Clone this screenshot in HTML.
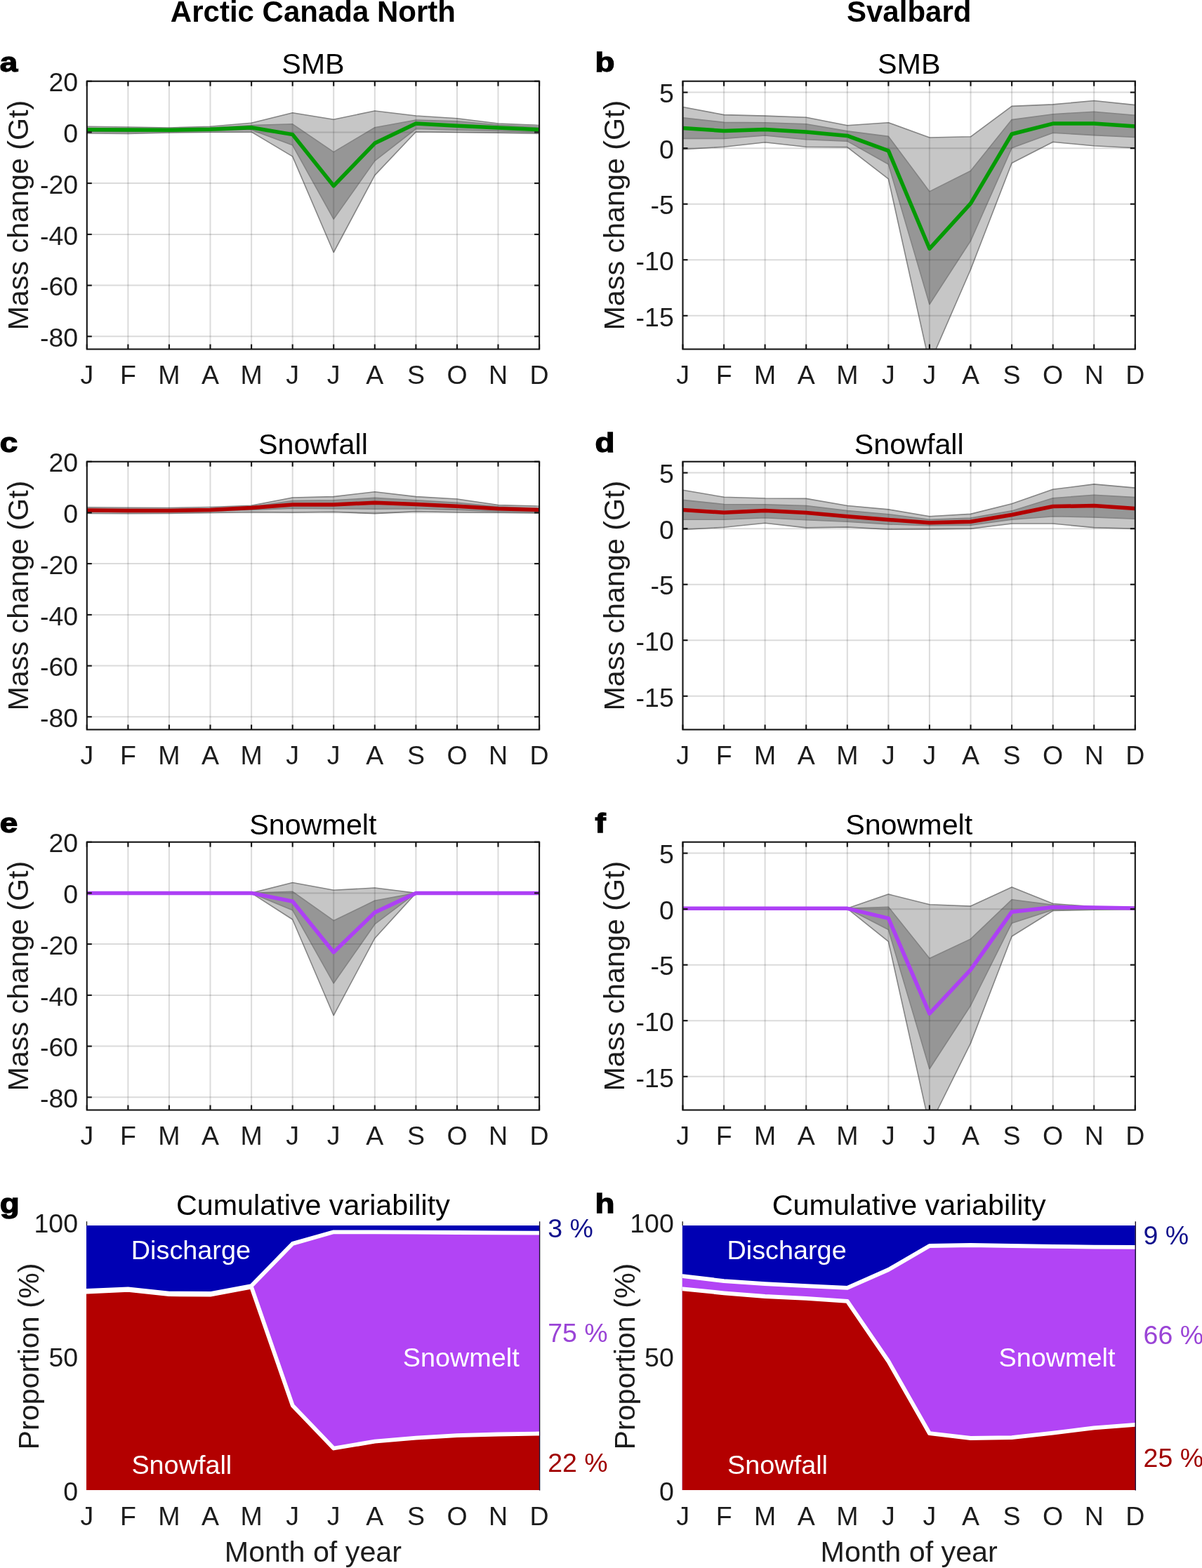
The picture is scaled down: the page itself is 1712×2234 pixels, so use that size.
<!DOCTYPE html>
<html><head><meta charset="utf-8"><title>Figure</title>
<style>html,body{margin:0;padding:0;background:#fff;}body{width:1712px;height:2234px;overflow:hidden;}svg{display:block;}</style>
</head><body>
<svg width="1712" height="2234" viewBox="0 0 1712 2234" font-family="'Liberation Sans', Arial, Helvetica, sans-serif"><rect width="1712" height="2234" fill="#fff"/><clipPath id="clipa"><rect x="123.8" y="115.7" width="644.3" height="381.8"/></clipPath><g clip-path="url(#clipa)"><polygon points="123.8,180.2 182.4,181.0 240.9,182.0 299.5,180.2 358.1,175.2 416.7,160.7 475.2,170.2 533.8,158.0 592.4,165.0 651.0,168.8 709.5,176.0 768.1,178.6 768.1,190.4 709.5,189.1 651.0,188.5 592.4,187.8 533.8,249.6 475.2,359.5 416.7,222.9 358.1,187.9 299.5,188.2 240.9,189.0 182.4,190.4 123.8,190.0" fill="#c6c6c6" stroke="#848484" stroke-width="1.6" stroke-linejoin="round"/><polygon points="123.8,182.5 182.4,183.0 240.9,183.5 299.5,182.0 358.1,178.5 416.7,176.8 475.2,216.6 533.8,181.8 592.4,171.0 651.0,172.7 709.5,178.0 768.1,181.0 768.1,188.5 709.5,186.5 651.0,185.2 592.4,183.5 533.8,229.1 475.2,312.1 416.7,206.8 358.1,185.0 299.5,186.5 240.9,187.2 182.4,187.8 123.8,187.5" fill="#969696" stroke="#848484" stroke-width="1.6" stroke-linejoin="round"/><line x1="182.4" y1="115.7" x2="182.4" y2="497.5" stroke="#262626" stroke-opacity="0.165" stroke-width="2"/><line x1="240.9" y1="115.7" x2="240.9" y2="497.5" stroke="#262626" stroke-opacity="0.165" stroke-width="2"/><line x1="299.5" y1="115.7" x2="299.5" y2="497.5" stroke="#262626" stroke-opacity="0.165" stroke-width="2"/><line x1="358.1" y1="115.7" x2="358.1" y2="497.5" stroke="#262626" stroke-opacity="0.165" stroke-width="2"/><line x1="416.7" y1="115.7" x2="416.7" y2="497.5" stroke="#262626" stroke-opacity="0.165" stroke-width="2"/><line x1="475.2" y1="115.7" x2="475.2" y2="497.5" stroke="#262626" stroke-opacity="0.165" stroke-width="2"/><line x1="533.8" y1="115.7" x2="533.8" y2="497.5" stroke="#262626" stroke-opacity="0.165" stroke-width="2"/><line x1="592.4" y1="115.7" x2="592.4" y2="497.5" stroke="#262626" stroke-opacity="0.165" stroke-width="2"/><line x1="651.0" y1="115.7" x2="651.0" y2="497.5" stroke="#262626" stroke-opacity="0.165" stroke-width="2"/><line x1="709.5" y1="115.7" x2="709.5" y2="497.5" stroke="#262626" stroke-opacity="0.165" stroke-width="2"/><line x1="123.8" y1="115.7" x2="768.1" y2="115.7" stroke="#262626" stroke-opacity="0.165" stroke-width="2"/><line x1="123.8" y1="188.4" x2="768.1" y2="188.4" stroke="#262626" stroke-opacity="0.165" stroke-width="2"/><line x1="123.8" y1="261.1" x2="768.1" y2="261.1" stroke="#262626" stroke-opacity="0.165" stroke-width="2"/><line x1="123.8" y1="333.9" x2="768.1" y2="333.9" stroke="#262626" stroke-opacity="0.165" stroke-width="2"/><line x1="123.8" y1="406.6" x2="768.1" y2="406.6" stroke="#262626" stroke-opacity="0.165" stroke-width="2"/><line x1="123.8" y1="479.3" x2="768.1" y2="479.3" stroke="#262626" stroke-opacity="0.165" stroke-width="2"/><polyline points="123.8,184.8 182.4,185.1 240.9,185.3 299.5,184.2 358.1,181.8 416.7,191.6 475.2,264.8 533.8,204.1 592.4,176.0 651.0,179.3 709.5,181.9 768.1,184.8" fill="none" stroke="#049a04" stroke-width="5.5" stroke-linejoin="round" stroke-linecap="butt"/></g><rect x="123.8" y="115.7" width="644.3" height="381.8" fill="none" stroke="#141414" stroke-width="2.1"/><line x1="123.8" y1="497.5" x2="123.8" y2="490.5" stroke="#141414" stroke-width="2.1"/><line x1="123.8" y1="115.7" x2="123.8" y2="122.7" stroke="#141414" stroke-width="2.1"/><line x1="182.4" y1="497.5" x2="182.4" y2="490.5" stroke="#141414" stroke-width="2.1"/><line x1="182.4" y1="115.7" x2="182.4" y2="122.7" stroke="#141414" stroke-width="2.1"/><line x1="240.9" y1="497.5" x2="240.9" y2="490.5" stroke="#141414" stroke-width="2.1"/><line x1="240.9" y1="115.7" x2="240.9" y2="122.7" stroke="#141414" stroke-width="2.1"/><line x1="299.5" y1="497.5" x2="299.5" y2="490.5" stroke="#141414" stroke-width="2.1"/><line x1="299.5" y1="115.7" x2="299.5" y2="122.7" stroke="#141414" stroke-width="2.1"/><line x1="358.1" y1="497.5" x2="358.1" y2="490.5" stroke="#141414" stroke-width="2.1"/><line x1="358.1" y1="115.7" x2="358.1" y2="122.7" stroke="#141414" stroke-width="2.1"/><line x1="416.7" y1="497.5" x2="416.7" y2="490.5" stroke="#141414" stroke-width="2.1"/><line x1="416.7" y1="115.7" x2="416.7" y2="122.7" stroke="#141414" stroke-width="2.1"/><line x1="475.2" y1="497.5" x2="475.2" y2="490.5" stroke="#141414" stroke-width="2.1"/><line x1="475.2" y1="115.7" x2="475.2" y2="122.7" stroke="#141414" stroke-width="2.1"/><line x1="533.8" y1="497.5" x2="533.8" y2="490.5" stroke="#141414" stroke-width="2.1"/><line x1="533.8" y1="115.7" x2="533.8" y2="122.7" stroke="#141414" stroke-width="2.1"/><line x1="592.4" y1="497.5" x2="592.4" y2="490.5" stroke="#141414" stroke-width="2.1"/><line x1="592.4" y1="115.7" x2="592.4" y2="122.7" stroke="#141414" stroke-width="2.1"/><line x1="651.0" y1="497.5" x2="651.0" y2="490.5" stroke="#141414" stroke-width="2.1"/><line x1="651.0" y1="115.7" x2="651.0" y2="122.7" stroke="#141414" stroke-width="2.1"/><line x1="709.5" y1="497.5" x2="709.5" y2="490.5" stroke="#141414" stroke-width="2.1"/><line x1="709.5" y1="115.7" x2="709.5" y2="122.7" stroke="#141414" stroke-width="2.1"/><line x1="768.1" y1="497.5" x2="768.1" y2="490.5" stroke="#141414" stroke-width="2.1"/><line x1="768.1" y1="115.7" x2="768.1" y2="122.7" stroke="#141414" stroke-width="2.1"/><line x1="123.8" y1="115.7" x2="130.8" y2="115.7" stroke="#141414" stroke-width="2.1"/><line x1="768.1" y1="115.7" x2="761.1" y2="115.7" stroke="#141414" stroke-width="2.1"/><line x1="123.8" y1="188.4" x2="130.8" y2="188.4" stroke="#141414" stroke-width="2.1"/><line x1="768.1" y1="188.4" x2="761.1" y2="188.4" stroke="#141414" stroke-width="2.1"/><line x1="123.8" y1="261.1" x2="130.8" y2="261.1" stroke="#141414" stroke-width="2.1"/><line x1="768.1" y1="261.1" x2="761.1" y2="261.1" stroke="#141414" stroke-width="2.1"/><line x1="123.8" y1="333.9" x2="130.8" y2="333.9" stroke="#141414" stroke-width="2.1"/><line x1="768.1" y1="333.9" x2="761.1" y2="333.9" stroke="#141414" stroke-width="2.1"/><line x1="123.8" y1="406.6" x2="130.8" y2="406.6" stroke="#141414" stroke-width="2.1"/><line x1="768.1" y1="406.6" x2="761.1" y2="406.6" stroke="#141414" stroke-width="2.1"/><line x1="123.8" y1="479.3" x2="130.8" y2="479.3" stroke="#141414" stroke-width="2.1"/><line x1="768.1" y1="479.3" x2="761.1" y2="479.3" stroke="#141414" stroke-width="2.1"/><text x="123.8" y="546.7" font-size="37.5" fill="#1c1c1c" text-anchor="middle">J</text><text x="182.4" y="546.7" font-size="37.5" fill="#1c1c1c" text-anchor="middle">F</text><text x="240.9" y="546.7" font-size="37.5" fill="#1c1c1c" text-anchor="middle">M</text><text x="299.5" y="546.7" font-size="37.5" fill="#1c1c1c" text-anchor="middle">A</text><text x="358.1" y="546.7" font-size="37.5" fill="#1c1c1c" text-anchor="middle">M</text><text x="416.7" y="546.7" font-size="37.5" fill="#1c1c1c" text-anchor="middle">J</text><text x="475.2" y="546.7" font-size="37.5" fill="#1c1c1c" text-anchor="middle">J</text><text x="533.8" y="546.7" font-size="37.5" fill="#1c1c1c" text-anchor="middle">A</text><text x="592.4" y="546.7" font-size="37.5" fill="#1c1c1c" text-anchor="middle">S</text><text x="651.0" y="546.7" font-size="37.5" fill="#1c1c1c" text-anchor="middle">O</text><text x="709.5" y="546.7" font-size="37.5" fill="#1c1c1c" text-anchor="middle">N</text><text x="768.1" y="546.7" font-size="37.5" fill="#1c1c1c" text-anchor="middle">D</text><text x="111.1" y="130.4" font-size="37.5" fill="#1c1c1c" text-anchor="end">20</text><text x="111.1" y="203.1" font-size="37.5" fill="#1c1c1c" text-anchor="end">0</text><text x="111.1" y="275.8" font-size="37.5" fill="#1c1c1c" text-anchor="end">-20</text><text x="111.1" y="348.6" font-size="37.5" fill="#1c1c1c" text-anchor="end">-40</text><text x="111.1" y="421.3" font-size="37.5" fill="#1c1c1c" text-anchor="end">-60</text><text x="111.1" y="494.0" font-size="37.5" fill="#1c1c1c" text-anchor="end">-80</text><clipPath id="clipb"><rect x="972.5" y="115.7" width="644.3" height="381.8"/></clipPath><g clip-path="url(#clipb)"><polygon points="972.5,152.5 1031.1,163.6 1089.6,165.1 1148.2,167.3 1206.8,178.8 1265.4,174.8 1323.9,196.0 1382.5,194.8 1441.1,151.4 1499.7,148.9 1558.2,143.5 1616.8,149.6 1616.8,210.7 1558.2,207.7 1499.7,202.3 1441.1,232.2 1382.5,383.8 1323.9,518.5 1265.4,254.8 1206.8,209.6 1148.2,209.2 1089.6,202.7 1031.1,209.2 972.5,212.8" fill="#c6c6c6" stroke="#848484" stroke-width="1.6" stroke-linejoin="round"/><polygon points="972.5,167.7 1031.1,174.4 1089.6,174.8 1148.2,176.8 1206.8,186.9 1265.4,194.4 1323.9,272.9 1382.5,243.5 1441.1,170.6 1499.7,162.7 1558.2,159.3 1616.8,164.3 1616.8,195.5 1558.2,192.6 1499.7,189.2 1441.1,210.7 1382.5,343.0 1323.9,433.5 1265.4,234.0 1206.8,201.1 1148.2,198.7 1089.6,193.0 1031.1,197.4 972.5,197.4" fill="#969696" stroke="#848484" stroke-width="1.6" stroke-linejoin="round"/><line x1="1031.1" y1="115.7" x2="1031.1" y2="497.5" stroke="#262626" stroke-opacity="0.165" stroke-width="2"/><line x1="1089.6" y1="115.7" x2="1089.6" y2="497.5" stroke="#262626" stroke-opacity="0.165" stroke-width="2"/><line x1="1148.2" y1="115.7" x2="1148.2" y2="497.5" stroke="#262626" stroke-opacity="0.165" stroke-width="2"/><line x1="1206.8" y1="115.7" x2="1206.8" y2="497.5" stroke="#262626" stroke-opacity="0.165" stroke-width="2"/><line x1="1265.4" y1="115.7" x2="1265.4" y2="497.5" stroke="#262626" stroke-opacity="0.165" stroke-width="2"/><line x1="1323.9" y1="115.7" x2="1323.9" y2="497.5" stroke="#262626" stroke-opacity="0.165" stroke-width="2"/><line x1="1382.5" y1="115.7" x2="1382.5" y2="497.5" stroke="#262626" stroke-opacity="0.165" stroke-width="2"/><line x1="1441.1" y1="115.7" x2="1441.1" y2="497.5" stroke="#262626" stroke-opacity="0.165" stroke-width="2"/><line x1="1499.7" y1="115.7" x2="1499.7" y2="497.5" stroke="#262626" stroke-opacity="0.165" stroke-width="2"/><line x1="1558.2" y1="115.7" x2="1558.2" y2="497.5" stroke="#262626" stroke-opacity="0.165" stroke-width="2"/><line x1="972.5" y1="131.6" x2="1616.8" y2="131.6" stroke="#262626" stroke-opacity="0.165" stroke-width="2"/><line x1="972.5" y1="211.2" x2="1616.8" y2="211.2" stroke="#262626" stroke-opacity="0.165" stroke-width="2"/><line x1="972.5" y1="290.7" x2="1616.8" y2="290.7" stroke="#262626" stroke-opacity="0.165" stroke-width="2"/><line x1="972.5" y1="370.2" x2="1616.8" y2="370.2" stroke="#262626" stroke-opacity="0.165" stroke-width="2"/><line x1="972.5" y1="449.8" x2="1616.8" y2="449.8" stroke="#262626" stroke-opacity="0.165" stroke-width="2"/><polyline points="972.5,182.5 1031.1,186.5 1089.6,184.5 1148.2,187.9 1206.8,193.4 1265.4,214.9 1323.9,354.3 1382.5,289.9 1441.1,191.0 1499.7,176.1 1558.2,176.1 1616.8,180.1" fill="none" stroke="#049a04" stroke-width="5.5" stroke-linejoin="round" stroke-linecap="butt"/></g><rect x="972.5" y="115.7" width="644.3" height="381.8" fill="none" stroke="#141414" stroke-width="2.1"/><line x1="972.5" y1="497.5" x2="972.5" y2="490.5" stroke="#141414" stroke-width="2.1"/><line x1="972.5" y1="115.7" x2="972.5" y2="122.7" stroke="#141414" stroke-width="2.1"/><line x1="1031.1" y1="497.5" x2="1031.1" y2="490.5" stroke="#141414" stroke-width="2.1"/><line x1="1031.1" y1="115.7" x2="1031.1" y2="122.7" stroke="#141414" stroke-width="2.1"/><line x1="1089.6" y1="497.5" x2="1089.6" y2="490.5" stroke="#141414" stroke-width="2.1"/><line x1="1089.6" y1="115.7" x2="1089.6" y2="122.7" stroke="#141414" stroke-width="2.1"/><line x1="1148.2" y1="497.5" x2="1148.2" y2="490.5" stroke="#141414" stroke-width="2.1"/><line x1="1148.2" y1="115.7" x2="1148.2" y2="122.7" stroke="#141414" stroke-width="2.1"/><line x1="1206.8" y1="497.5" x2="1206.8" y2="490.5" stroke="#141414" stroke-width="2.1"/><line x1="1206.8" y1="115.7" x2="1206.8" y2="122.7" stroke="#141414" stroke-width="2.1"/><line x1="1265.4" y1="497.5" x2="1265.4" y2="490.5" stroke="#141414" stroke-width="2.1"/><line x1="1265.4" y1="115.7" x2="1265.4" y2="122.7" stroke="#141414" stroke-width="2.1"/><line x1="1323.9" y1="497.5" x2="1323.9" y2="490.5" stroke="#141414" stroke-width="2.1"/><line x1="1323.9" y1="115.7" x2="1323.9" y2="122.7" stroke="#141414" stroke-width="2.1"/><line x1="1382.5" y1="497.5" x2="1382.5" y2="490.5" stroke="#141414" stroke-width="2.1"/><line x1="1382.5" y1="115.7" x2="1382.5" y2="122.7" stroke="#141414" stroke-width="2.1"/><line x1="1441.1" y1="497.5" x2="1441.1" y2="490.5" stroke="#141414" stroke-width="2.1"/><line x1="1441.1" y1="115.7" x2="1441.1" y2="122.7" stroke="#141414" stroke-width="2.1"/><line x1="1499.7" y1="497.5" x2="1499.7" y2="490.5" stroke="#141414" stroke-width="2.1"/><line x1="1499.7" y1="115.7" x2="1499.7" y2="122.7" stroke="#141414" stroke-width="2.1"/><line x1="1558.2" y1="497.5" x2="1558.2" y2="490.5" stroke="#141414" stroke-width="2.1"/><line x1="1558.2" y1="115.7" x2="1558.2" y2="122.7" stroke="#141414" stroke-width="2.1"/><line x1="1616.8" y1="497.5" x2="1616.8" y2="490.5" stroke="#141414" stroke-width="2.1"/><line x1="1616.8" y1="115.7" x2="1616.8" y2="122.7" stroke="#141414" stroke-width="2.1"/><line x1="972.5" y1="131.6" x2="979.5" y2="131.6" stroke="#141414" stroke-width="2.1"/><line x1="1616.8" y1="131.6" x2="1609.8" y2="131.6" stroke="#141414" stroke-width="2.1"/><line x1="972.5" y1="211.2" x2="979.5" y2="211.2" stroke="#141414" stroke-width="2.1"/><line x1="1616.8" y1="211.2" x2="1609.8" y2="211.2" stroke="#141414" stroke-width="2.1"/><line x1="972.5" y1="290.7" x2="979.5" y2="290.7" stroke="#141414" stroke-width="2.1"/><line x1="1616.8" y1="290.7" x2="1609.8" y2="290.7" stroke="#141414" stroke-width="2.1"/><line x1="972.5" y1="370.2" x2="979.5" y2="370.2" stroke="#141414" stroke-width="2.1"/><line x1="1616.8" y1="370.2" x2="1609.8" y2="370.2" stroke="#141414" stroke-width="2.1"/><line x1="972.5" y1="449.8" x2="979.5" y2="449.8" stroke="#141414" stroke-width="2.1"/><line x1="1616.8" y1="449.8" x2="1609.8" y2="449.8" stroke="#141414" stroke-width="2.1"/><text x="972.5" y="546.7" font-size="37.5" fill="#1c1c1c" text-anchor="middle">J</text><text x="1031.1" y="546.7" font-size="37.5" fill="#1c1c1c" text-anchor="middle">F</text><text x="1089.6" y="546.7" font-size="37.5" fill="#1c1c1c" text-anchor="middle">M</text><text x="1148.2" y="546.7" font-size="37.5" fill="#1c1c1c" text-anchor="middle">A</text><text x="1206.8" y="546.7" font-size="37.5" fill="#1c1c1c" text-anchor="middle">M</text><text x="1265.4" y="546.7" font-size="37.5" fill="#1c1c1c" text-anchor="middle">J</text><text x="1323.9" y="546.7" font-size="37.5" fill="#1c1c1c" text-anchor="middle">J</text><text x="1382.5" y="546.7" font-size="37.5" fill="#1c1c1c" text-anchor="middle">A</text><text x="1441.1" y="546.7" font-size="37.5" fill="#1c1c1c" text-anchor="middle">S</text><text x="1499.7" y="546.7" font-size="37.5" fill="#1c1c1c" text-anchor="middle">O</text><text x="1558.2" y="546.7" font-size="37.5" fill="#1c1c1c" text-anchor="middle">N</text><text x="1616.8" y="546.7" font-size="37.5" fill="#1c1c1c" text-anchor="middle">D</text><text x="959.8" y="146.3" font-size="37.5" fill="#1c1c1c" text-anchor="end">5</text><text x="959.8" y="225.8" font-size="37.5" fill="#1c1c1c" text-anchor="end">0</text><text x="959.8" y="305.4" font-size="37.5" fill="#1c1c1c" text-anchor="end">-5</text><text x="959.8" y="384.9" font-size="37.5" fill="#1c1c1c" text-anchor="end">-10</text><text x="959.8" y="464.5" font-size="37.5" fill="#1c1c1c" text-anchor="end">-15</text><clipPath id="clipc"><rect x="123.8" y="657.7" width="644.3" height="381.8"/></clipPath><g clip-path="url(#clipc)"><polygon points="123.8,722.8 182.4,723.2 240.9,723.5 299.5,722.5 358.1,720.4 416.7,709.0 475.2,707.6 533.8,700.8 592.4,707.6 651.0,711.0 709.5,719.6 768.1,721.2 768.1,730.9 709.5,730.2 651.0,729.8 592.4,728.6 533.8,731.6 475.2,729.3 416.7,730.0 358.1,729.5 299.5,730.5 240.9,731.5 182.4,731.8 123.8,731.5" fill="#c6c6c6" stroke="#848484" stroke-width="1.6" stroke-linejoin="round"/><polygon points="123.8,725.0 182.4,725.4 240.9,725.5 299.5,724.5 358.1,722.0 416.7,713.5 475.2,712.8 533.8,709.4 592.4,712.8 651.0,716.2 709.5,721.9 768.1,724.1 768.1,729.3 709.5,728.6 651.0,726.4 592.4,724.8 533.8,725.2 475.2,724.8 416.7,724.1 358.1,726.5 299.5,728.4 240.9,729.2 182.4,729.4 123.8,729.0" fill="#969696" stroke="#848484" stroke-width="1.6" stroke-linejoin="round"/><line x1="182.4" y1="657.7" x2="182.4" y2="1039.5" stroke="#262626" stroke-opacity="0.165" stroke-width="2"/><line x1="240.9" y1="657.7" x2="240.9" y2="1039.5" stroke="#262626" stroke-opacity="0.165" stroke-width="2"/><line x1="299.5" y1="657.7" x2="299.5" y2="1039.5" stroke="#262626" stroke-opacity="0.165" stroke-width="2"/><line x1="358.1" y1="657.7" x2="358.1" y2="1039.5" stroke="#262626" stroke-opacity="0.165" stroke-width="2"/><line x1="416.7" y1="657.7" x2="416.7" y2="1039.5" stroke="#262626" stroke-opacity="0.165" stroke-width="2"/><line x1="475.2" y1="657.7" x2="475.2" y2="1039.5" stroke="#262626" stroke-opacity="0.165" stroke-width="2"/><line x1="533.8" y1="657.7" x2="533.8" y2="1039.5" stroke="#262626" stroke-opacity="0.165" stroke-width="2"/><line x1="592.4" y1="657.7" x2="592.4" y2="1039.5" stroke="#262626" stroke-opacity="0.165" stroke-width="2"/><line x1="651.0" y1="657.7" x2="651.0" y2="1039.5" stroke="#262626" stroke-opacity="0.165" stroke-width="2"/><line x1="709.5" y1="657.7" x2="709.5" y2="1039.5" stroke="#262626" stroke-opacity="0.165" stroke-width="2"/><line x1="123.8" y1="657.7" x2="768.1" y2="657.7" stroke="#262626" stroke-opacity="0.165" stroke-width="2"/><line x1="123.8" y1="730.4" x2="768.1" y2="730.4" stroke="#262626" stroke-opacity="0.165" stroke-width="2"/><line x1="123.8" y1="803.1" x2="768.1" y2="803.1" stroke="#262626" stroke-opacity="0.165" stroke-width="2"/><line x1="123.8" y1="875.9" x2="768.1" y2="875.9" stroke="#262626" stroke-opacity="0.165" stroke-width="2"/><line x1="123.8" y1="948.6" x2="768.1" y2="948.6" stroke="#262626" stroke-opacity="0.165" stroke-width="2"/><line x1="123.8" y1="1021.3" x2="768.1" y2="1021.3" stroke="#262626" stroke-opacity="0.165" stroke-width="2"/><polyline points="123.8,727.0 182.4,727.4 240.9,727.4 299.5,726.4 358.1,723.4 416.7,719.0 475.2,718.9 533.8,716.2 592.4,718.5 651.0,721.2 709.5,724.8 768.1,726.4" fill="none" stroke="#b30000" stroke-width="5.5" stroke-linejoin="round" stroke-linecap="butt"/></g><rect x="123.8" y="657.7" width="644.3" height="381.8" fill="none" stroke="#141414" stroke-width="2.1"/><line x1="123.8" y1="1039.5" x2="123.8" y2="1032.5" stroke="#141414" stroke-width="2.1"/><line x1="123.8" y1="657.7" x2="123.8" y2="664.7" stroke="#141414" stroke-width="2.1"/><line x1="182.4" y1="1039.5" x2="182.4" y2="1032.5" stroke="#141414" stroke-width="2.1"/><line x1="182.4" y1="657.7" x2="182.4" y2="664.7" stroke="#141414" stroke-width="2.1"/><line x1="240.9" y1="1039.5" x2="240.9" y2="1032.5" stroke="#141414" stroke-width="2.1"/><line x1="240.9" y1="657.7" x2="240.9" y2="664.7" stroke="#141414" stroke-width="2.1"/><line x1="299.5" y1="1039.5" x2="299.5" y2="1032.5" stroke="#141414" stroke-width="2.1"/><line x1="299.5" y1="657.7" x2="299.5" y2="664.7" stroke="#141414" stroke-width="2.1"/><line x1="358.1" y1="1039.5" x2="358.1" y2="1032.5" stroke="#141414" stroke-width="2.1"/><line x1="358.1" y1="657.7" x2="358.1" y2="664.7" stroke="#141414" stroke-width="2.1"/><line x1="416.7" y1="1039.5" x2="416.7" y2="1032.5" stroke="#141414" stroke-width="2.1"/><line x1="416.7" y1="657.7" x2="416.7" y2="664.7" stroke="#141414" stroke-width="2.1"/><line x1="475.2" y1="1039.5" x2="475.2" y2="1032.5" stroke="#141414" stroke-width="2.1"/><line x1="475.2" y1="657.7" x2="475.2" y2="664.7" stroke="#141414" stroke-width="2.1"/><line x1="533.8" y1="1039.5" x2="533.8" y2="1032.5" stroke="#141414" stroke-width="2.1"/><line x1="533.8" y1="657.7" x2="533.8" y2="664.7" stroke="#141414" stroke-width="2.1"/><line x1="592.4" y1="1039.5" x2="592.4" y2="1032.5" stroke="#141414" stroke-width="2.1"/><line x1="592.4" y1="657.7" x2="592.4" y2="664.7" stroke="#141414" stroke-width="2.1"/><line x1="651.0" y1="1039.5" x2="651.0" y2="1032.5" stroke="#141414" stroke-width="2.1"/><line x1="651.0" y1="657.7" x2="651.0" y2="664.7" stroke="#141414" stroke-width="2.1"/><line x1="709.5" y1="1039.5" x2="709.5" y2="1032.5" stroke="#141414" stroke-width="2.1"/><line x1="709.5" y1="657.7" x2="709.5" y2="664.7" stroke="#141414" stroke-width="2.1"/><line x1="768.1" y1="1039.5" x2="768.1" y2="1032.5" stroke="#141414" stroke-width="2.1"/><line x1="768.1" y1="657.7" x2="768.1" y2="664.7" stroke="#141414" stroke-width="2.1"/><line x1="123.8" y1="657.7" x2="130.8" y2="657.7" stroke="#141414" stroke-width="2.1"/><line x1="768.1" y1="657.7" x2="761.1" y2="657.7" stroke="#141414" stroke-width="2.1"/><line x1="123.8" y1="730.4" x2="130.8" y2="730.4" stroke="#141414" stroke-width="2.1"/><line x1="768.1" y1="730.4" x2="761.1" y2="730.4" stroke="#141414" stroke-width="2.1"/><line x1="123.8" y1="803.1" x2="130.8" y2="803.1" stroke="#141414" stroke-width="2.1"/><line x1="768.1" y1="803.1" x2="761.1" y2="803.1" stroke="#141414" stroke-width="2.1"/><line x1="123.8" y1="875.9" x2="130.8" y2="875.9" stroke="#141414" stroke-width="2.1"/><line x1="768.1" y1="875.9" x2="761.1" y2="875.9" stroke="#141414" stroke-width="2.1"/><line x1="123.8" y1="948.6" x2="130.8" y2="948.6" stroke="#141414" stroke-width="2.1"/><line x1="768.1" y1="948.6" x2="761.1" y2="948.6" stroke="#141414" stroke-width="2.1"/><line x1="123.8" y1="1021.3" x2="130.8" y2="1021.3" stroke="#141414" stroke-width="2.1"/><line x1="768.1" y1="1021.3" x2="761.1" y2="1021.3" stroke="#141414" stroke-width="2.1"/><text x="123.8" y="1088.7" font-size="37.5" fill="#1c1c1c" text-anchor="middle">J</text><text x="182.4" y="1088.7" font-size="37.5" fill="#1c1c1c" text-anchor="middle">F</text><text x="240.9" y="1088.7" font-size="37.5" fill="#1c1c1c" text-anchor="middle">M</text><text x="299.5" y="1088.7" font-size="37.5" fill="#1c1c1c" text-anchor="middle">A</text><text x="358.1" y="1088.7" font-size="37.5" fill="#1c1c1c" text-anchor="middle">M</text><text x="416.7" y="1088.7" font-size="37.5" fill="#1c1c1c" text-anchor="middle">J</text><text x="475.2" y="1088.7" font-size="37.5" fill="#1c1c1c" text-anchor="middle">J</text><text x="533.8" y="1088.7" font-size="37.5" fill="#1c1c1c" text-anchor="middle">A</text><text x="592.4" y="1088.7" font-size="37.5" fill="#1c1c1c" text-anchor="middle">S</text><text x="651.0" y="1088.7" font-size="37.5" fill="#1c1c1c" text-anchor="middle">O</text><text x="709.5" y="1088.7" font-size="37.5" fill="#1c1c1c" text-anchor="middle">N</text><text x="768.1" y="1088.7" font-size="37.5" fill="#1c1c1c" text-anchor="middle">D</text><text x="111.1" y="672.4" font-size="37.5" fill="#1c1c1c" text-anchor="end">20</text><text x="111.1" y="745.1" font-size="37.5" fill="#1c1c1c" text-anchor="end">0</text><text x="111.1" y="817.8" font-size="37.5" fill="#1c1c1c" text-anchor="end">-20</text><text x="111.1" y="890.6" font-size="37.5" fill="#1c1c1c" text-anchor="end">-40</text><text x="111.1" y="963.3" font-size="37.5" fill="#1c1c1c" text-anchor="end">-60</text><text x="111.1" y="1036.0" font-size="37.5" fill="#1c1c1c" text-anchor="end">-80</text><clipPath id="clipd"><rect x="972.5" y="657.7" width="644.3" height="381.8"/></clipPath><g clip-path="url(#clipd)"><polygon points="972.5,698.2 1031.1,708.3 1089.6,710.0 1148.2,710.4 1206.8,720.5 1265.4,725.9 1323.9,735.8 1382.5,732.4 1441.1,717.7 1499.7,697.3 1558.2,689.9 1616.8,695.1 1616.8,753.2 1558.2,751.6 1499.7,746.0 1441.1,746.0 1382.5,753.2 1323.9,753.9 1265.4,754.2 1206.8,750.9 1148.2,751.9 1089.6,745.2 1031.1,751.3 972.5,754.5" fill="#c6c6c6" stroke="#848484" stroke-width="1.6" stroke-linejoin="round"/><polygon points="972.5,712.4 1031.1,718.5 1089.6,718.9 1148.2,720.5 1206.8,727.6 1265.4,732.7 1323.9,740.3 1382.5,738.1 1441.1,727.9 1499.7,709.8 1558.2,705.2 1616.8,708.6 1616.8,739.2 1558.2,736.9 1499.7,735.8 1441.1,740.3 1382.5,748.2 1323.9,748.7 1265.4,746.9 1206.8,743.2 1148.2,740.7 1089.6,737.7 1031.1,740.3 972.5,740.3" fill="#969696" stroke="#848484" stroke-width="1.6" stroke-linejoin="round"/><line x1="1031.1" y1="657.7" x2="1031.1" y2="1039.5" stroke="#262626" stroke-opacity="0.165" stroke-width="2"/><line x1="1089.6" y1="657.7" x2="1089.6" y2="1039.5" stroke="#262626" stroke-opacity="0.165" stroke-width="2"/><line x1="1148.2" y1="657.7" x2="1148.2" y2="1039.5" stroke="#262626" stroke-opacity="0.165" stroke-width="2"/><line x1="1206.8" y1="657.7" x2="1206.8" y2="1039.5" stroke="#262626" stroke-opacity="0.165" stroke-width="2"/><line x1="1265.4" y1="657.7" x2="1265.4" y2="1039.5" stroke="#262626" stroke-opacity="0.165" stroke-width="2"/><line x1="1323.9" y1="657.7" x2="1323.9" y2="1039.5" stroke="#262626" stroke-opacity="0.165" stroke-width="2"/><line x1="1382.5" y1="657.7" x2="1382.5" y2="1039.5" stroke="#262626" stroke-opacity="0.165" stroke-width="2"/><line x1="1441.1" y1="657.7" x2="1441.1" y2="1039.5" stroke="#262626" stroke-opacity="0.165" stroke-width="2"/><line x1="1499.7" y1="657.7" x2="1499.7" y2="1039.5" stroke="#262626" stroke-opacity="0.165" stroke-width="2"/><line x1="1558.2" y1="657.7" x2="1558.2" y2="1039.5" stroke="#262626" stroke-opacity="0.165" stroke-width="2"/><line x1="972.5" y1="673.6" x2="1616.8" y2="673.6" stroke="#262626" stroke-opacity="0.165" stroke-width="2"/><line x1="972.5" y1="753.2" x2="1616.8" y2="753.2" stroke="#262626" stroke-opacity="0.165" stroke-width="2"/><line x1="972.5" y1="832.7" x2="1616.8" y2="832.7" stroke="#262626" stroke-opacity="0.165" stroke-width="2"/><line x1="972.5" y1="912.2" x2="1616.8" y2="912.2" stroke="#262626" stroke-opacity="0.165" stroke-width="2"/><line x1="972.5" y1="991.8" x2="1616.8" y2="991.8" stroke="#262626" stroke-opacity="0.165" stroke-width="2"/><polyline points="972.5,726.6 1031.1,730.2 1089.6,727.6 1148.2,730.6 1206.8,735.7 1265.4,740.5 1323.9,744.8 1382.5,743.3 1441.1,733.5 1499.7,721.5 1558.2,720.6 1616.8,724.5" fill="none" stroke="#b30000" stroke-width="5.5" stroke-linejoin="round" stroke-linecap="butt"/></g><rect x="972.5" y="657.7" width="644.3" height="381.8" fill="none" stroke="#141414" stroke-width="2.1"/><line x1="972.5" y1="1039.5" x2="972.5" y2="1032.5" stroke="#141414" stroke-width="2.1"/><line x1="972.5" y1="657.7" x2="972.5" y2="664.7" stroke="#141414" stroke-width="2.1"/><line x1="1031.1" y1="1039.5" x2="1031.1" y2="1032.5" stroke="#141414" stroke-width="2.1"/><line x1="1031.1" y1="657.7" x2="1031.1" y2="664.7" stroke="#141414" stroke-width="2.1"/><line x1="1089.6" y1="1039.5" x2="1089.6" y2="1032.5" stroke="#141414" stroke-width="2.1"/><line x1="1089.6" y1="657.7" x2="1089.6" y2="664.7" stroke="#141414" stroke-width="2.1"/><line x1="1148.2" y1="1039.5" x2="1148.2" y2="1032.5" stroke="#141414" stroke-width="2.1"/><line x1="1148.2" y1="657.7" x2="1148.2" y2="664.7" stroke="#141414" stroke-width="2.1"/><line x1="1206.8" y1="1039.5" x2="1206.8" y2="1032.5" stroke="#141414" stroke-width="2.1"/><line x1="1206.8" y1="657.7" x2="1206.8" y2="664.7" stroke="#141414" stroke-width="2.1"/><line x1="1265.4" y1="1039.5" x2="1265.4" y2="1032.5" stroke="#141414" stroke-width="2.1"/><line x1="1265.4" y1="657.7" x2="1265.4" y2="664.7" stroke="#141414" stroke-width="2.1"/><line x1="1323.9" y1="1039.5" x2="1323.9" y2="1032.5" stroke="#141414" stroke-width="2.1"/><line x1="1323.9" y1="657.7" x2="1323.9" y2="664.7" stroke="#141414" stroke-width="2.1"/><line x1="1382.5" y1="1039.5" x2="1382.5" y2="1032.5" stroke="#141414" stroke-width="2.1"/><line x1="1382.5" y1="657.7" x2="1382.5" y2="664.7" stroke="#141414" stroke-width="2.1"/><line x1="1441.1" y1="1039.5" x2="1441.1" y2="1032.5" stroke="#141414" stroke-width="2.1"/><line x1="1441.1" y1="657.7" x2="1441.1" y2="664.7" stroke="#141414" stroke-width="2.1"/><line x1="1499.7" y1="1039.5" x2="1499.7" y2="1032.5" stroke="#141414" stroke-width="2.1"/><line x1="1499.7" y1="657.7" x2="1499.7" y2="664.7" stroke="#141414" stroke-width="2.1"/><line x1="1558.2" y1="1039.5" x2="1558.2" y2="1032.5" stroke="#141414" stroke-width="2.1"/><line x1="1558.2" y1="657.7" x2="1558.2" y2="664.7" stroke="#141414" stroke-width="2.1"/><line x1="1616.8" y1="1039.5" x2="1616.8" y2="1032.5" stroke="#141414" stroke-width="2.1"/><line x1="1616.8" y1="657.7" x2="1616.8" y2="664.7" stroke="#141414" stroke-width="2.1"/><line x1="972.5" y1="673.6" x2="979.5" y2="673.6" stroke="#141414" stroke-width="2.1"/><line x1="1616.8" y1="673.6" x2="1609.8" y2="673.6" stroke="#141414" stroke-width="2.1"/><line x1="972.5" y1="753.2" x2="979.5" y2="753.2" stroke="#141414" stroke-width="2.1"/><line x1="1616.8" y1="753.2" x2="1609.8" y2="753.2" stroke="#141414" stroke-width="2.1"/><line x1="972.5" y1="832.7" x2="979.5" y2="832.7" stroke="#141414" stroke-width="2.1"/><line x1="1616.8" y1="832.7" x2="1609.8" y2="832.7" stroke="#141414" stroke-width="2.1"/><line x1="972.5" y1="912.2" x2="979.5" y2="912.2" stroke="#141414" stroke-width="2.1"/><line x1="1616.8" y1="912.2" x2="1609.8" y2="912.2" stroke="#141414" stroke-width="2.1"/><line x1="972.5" y1="991.8" x2="979.5" y2="991.8" stroke="#141414" stroke-width="2.1"/><line x1="1616.8" y1="991.8" x2="1609.8" y2="991.8" stroke="#141414" stroke-width="2.1"/><text x="972.5" y="1088.7" font-size="37.5" fill="#1c1c1c" text-anchor="middle">J</text><text x="1031.1" y="1088.7" font-size="37.5" fill="#1c1c1c" text-anchor="middle">F</text><text x="1089.6" y="1088.7" font-size="37.5" fill="#1c1c1c" text-anchor="middle">M</text><text x="1148.2" y="1088.7" font-size="37.5" fill="#1c1c1c" text-anchor="middle">A</text><text x="1206.8" y="1088.7" font-size="37.5" fill="#1c1c1c" text-anchor="middle">M</text><text x="1265.4" y="1088.7" font-size="37.5" fill="#1c1c1c" text-anchor="middle">J</text><text x="1323.9" y="1088.7" font-size="37.5" fill="#1c1c1c" text-anchor="middle">J</text><text x="1382.5" y="1088.7" font-size="37.5" fill="#1c1c1c" text-anchor="middle">A</text><text x="1441.1" y="1088.7" font-size="37.5" fill="#1c1c1c" text-anchor="middle">S</text><text x="1499.7" y="1088.7" font-size="37.5" fill="#1c1c1c" text-anchor="middle">O</text><text x="1558.2" y="1088.7" font-size="37.5" fill="#1c1c1c" text-anchor="middle">N</text><text x="1616.8" y="1088.7" font-size="37.5" fill="#1c1c1c" text-anchor="middle">D</text><text x="959.8" y="688.3" font-size="37.5" fill="#1c1c1c" text-anchor="end">5</text><text x="959.8" y="767.9" font-size="37.5" fill="#1c1c1c" text-anchor="end">0</text><text x="959.8" y="847.4" font-size="37.5" fill="#1c1c1c" text-anchor="end">-5</text><text x="959.8" y="926.9" font-size="37.5" fill="#1c1c1c" text-anchor="end">-10</text><text x="959.8" y="1006.5" font-size="37.5" fill="#1c1c1c" text-anchor="end">-15</text><clipPath id="clipe"><rect x="123.8" y="1199.7" width="644.3" height="381.8"/></clipPath><g clip-path="url(#clipe)"><polygon points="123.8,1272.4 182.4,1272.4 240.9,1272.4 299.5,1272.4 358.1,1272.4 416.7,1257.5 475.2,1268.3 533.8,1265.0 592.4,1272.4 651.0,1272.4 709.5,1272.4 768.1,1272.4 768.1,1272.4 709.5,1272.4 651.0,1272.4 592.4,1272.4 533.8,1336.7 475.2,1446.7 416.7,1310.0 358.1,1272.4 299.5,1272.4 240.9,1272.4 182.4,1272.4 123.8,1272.4" fill="#c6c6c6" stroke="#848484" stroke-width="1.6" stroke-linejoin="round"/><polygon points="123.8,1272.4 182.4,1272.4 240.9,1272.4 299.5,1272.4 358.1,1272.4 416.7,1270.3 475.2,1311.7 533.8,1283.3 592.4,1272.4 651.0,1272.4 709.5,1272.4 768.1,1272.4 768.1,1272.4 709.5,1272.4 651.0,1272.4 592.4,1272.4 533.8,1316.7 475.2,1400.8 416.7,1296.7 358.1,1272.4 299.5,1272.4 240.9,1272.4 182.4,1272.4 123.8,1272.4" fill="#969696" stroke="#848484" stroke-width="1.6" stroke-linejoin="round"/><line x1="182.4" y1="1199.7" x2="182.4" y2="1581.5" stroke="#262626" stroke-opacity="0.165" stroke-width="2"/><line x1="240.9" y1="1199.7" x2="240.9" y2="1581.5" stroke="#262626" stroke-opacity="0.165" stroke-width="2"/><line x1="299.5" y1="1199.7" x2="299.5" y2="1581.5" stroke="#262626" stroke-opacity="0.165" stroke-width="2"/><line x1="358.1" y1="1199.7" x2="358.1" y2="1581.5" stroke="#262626" stroke-opacity="0.165" stroke-width="2"/><line x1="416.7" y1="1199.7" x2="416.7" y2="1581.5" stroke="#262626" stroke-opacity="0.165" stroke-width="2"/><line x1="475.2" y1="1199.7" x2="475.2" y2="1581.5" stroke="#262626" stroke-opacity="0.165" stroke-width="2"/><line x1="533.8" y1="1199.7" x2="533.8" y2="1581.5" stroke="#262626" stroke-opacity="0.165" stroke-width="2"/><line x1="592.4" y1="1199.7" x2="592.4" y2="1581.5" stroke="#262626" stroke-opacity="0.165" stroke-width="2"/><line x1="651.0" y1="1199.7" x2="651.0" y2="1581.5" stroke="#262626" stroke-opacity="0.165" stroke-width="2"/><line x1="709.5" y1="1199.7" x2="709.5" y2="1581.5" stroke="#262626" stroke-opacity="0.165" stroke-width="2"/><line x1="123.8" y1="1199.7" x2="768.1" y2="1199.7" stroke="#262626" stroke-opacity="0.165" stroke-width="2"/><line x1="123.8" y1="1272.4" x2="768.1" y2="1272.4" stroke="#262626" stroke-opacity="0.165" stroke-width="2"/><line x1="123.8" y1="1345.1" x2="768.1" y2="1345.1" stroke="#262626" stroke-opacity="0.165" stroke-width="2"/><line x1="123.8" y1="1417.9" x2="768.1" y2="1417.9" stroke="#262626" stroke-opacity="0.165" stroke-width="2"/><line x1="123.8" y1="1490.6" x2="768.1" y2="1490.6" stroke="#262626" stroke-opacity="0.165" stroke-width="2"/><line x1="123.8" y1="1563.3" x2="768.1" y2="1563.3" stroke="#262626" stroke-opacity="0.165" stroke-width="2"/><polyline points="123.8,1272.4 182.4,1272.4 240.9,1272.4 299.5,1272.4 358.1,1272.4 416.7,1284.2 475.2,1356.7 533.8,1300.0 592.4,1272.4 651.0,1272.4 709.5,1272.4 768.1,1272.4" fill="none" stroke="#ad40f5" stroke-width="5.5" stroke-linejoin="round" stroke-linecap="butt"/></g><rect x="123.8" y="1199.7" width="644.3" height="381.8" fill="none" stroke="#141414" stroke-width="2.1"/><line x1="123.8" y1="1581.5" x2="123.8" y2="1574.5" stroke="#141414" stroke-width="2.1"/><line x1="123.8" y1="1199.7" x2="123.8" y2="1206.7" stroke="#141414" stroke-width="2.1"/><line x1="182.4" y1="1581.5" x2="182.4" y2="1574.5" stroke="#141414" stroke-width="2.1"/><line x1="182.4" y1="1199.7" x2="182.4" y2="1206.7" stroke="#141414" stroke-width="2.1"/><line x1="240.9" y1="1581.5" x2="240.9" y2="1574.5" stroke="#141414" stroke-width="2.1"/><line x1="240.9" y1="1199.7" x2="240.9" y2="1206.7" stroke="#141414" stroke-width="2.1"/><line x1="299.5" y1="1581.5" x2="299.5" y2="1574.5" stroke="#141414" stroke-width="2.1"/><line x1="299.5" y1="1199.7" x2="299.5" y2="1206.7" stroke="#141414" stroke-width="2.1"/><line x1="358.1" y1="1581.5" x2="358.1" y2="1574.5" stroke="#141414" stroke-width="2.1"/><line x1="358.1" y1="1199.7" x2="358.1" y2="1206.7" stroke="#141414" stroke-width="2.1"/><line x1="416.7" y1="1581.5" x2="416.7" y2="1574.5" stroke="#141414" stroke-width="2.1"/><line x1="416.7" y1="1199.7" x2="416.7" y2="1206.7" stroke="#141414" stroke-width="2.1"/><line x1="475.2" y1="1581.5" x2="475.2" y2="1574.5" stroke="#141414" stroke-width="2.1"/><line x1="475.2" y1="1199.7" x2="475.2" y2="1206.7" stroke="#141414" stroke-width="2.1"/><line x1="533.8" y1="1581.5" x2="533.8" y2="1574.5" stroke="#141414" stroke-width="2.1"/><line x1="533.8" y1="1199.7" x2="533.8" y2="1206.7" stroke="#141414" stroke-width="2.1"/><line x1="592.4" y1="1581.5" x2="592.4" y2="1574.5" stroke="#141414" stroke-width="2.1"/><line x1="592.4" y1="1199.7" x2="592.4" y2="1206.7" stroke="#141414" stroke-width="2.1"/><line x1="651.0" y1="1581.5" x2="651.0" y2="1574.5" stroke="#141414" stroke-width="2.1"/><line x1="651.0" y1="1199.7" x2="651.0" y2="1206.7" stroke="#141414" stroke-width="2.1"/><line x1="709.5" y1="1581.5" x2="709.5" y2="1574.5" stroke="#141414" stroke-width="2.1"/><line x1="709.5" y1="1199.7" x2="709.5" y2="1206.7" stroke="#141414" stroke-width="2.1"/><line x1="768.1" y1="1581.5" x2="768.1" y2="1574.5" stroke="#141414" stroke-width="2.1"/><line x1="768.1" y1="1199.7" x2="768.1" y2="1206.7" stroke="#141414" stroke-width="2.1"/><line x1="123.8" y1="1199.7" x2="130.8" y2="1199.7" stroke="#141414" stroke-width="2.1"/><line x1="768.1" y1="1199.7" x2="761.1" y2="1199.7" stroke="#141414" stroke-width="2.1"/><line x1="123.8" y1="1272.4" x2="130.8" y2="1272.4" stroke="#141414" stroke-width="2.1"/><line x1="768.1" y1="1272.4" x2="761.1" y2="1272.4" stroke="#141414" stroke-width="2.1"/><line x1="123.8" y1="1345.1" x2="130.8" y2="1345.1" stroke="#141414" stroke-width="2.1"/><line x1="768.1" y1="1345.1" x2="761.1" y2="1345.1" stroke="#141414" stroke-width="2.1"/><line x1="123.8" y1="1417.9" x2="130.8" y2="1417.9" stroke="#141414" stroke-width="2.1"/><line x1="768.1" y1="1417.9" x2="761.1" y2="1417.9" stroke="#141414" stroke-width="2.1"/><line x1="123.8" y1="1490.6" x2="130.8" y2="1490.6" stroke="#141414" stroke-width="2.1"/><line x1="768.1" y1="1490.6" x2="761.1" y2="1490.6" stroke="#141414" stroke-width="2.1"/><line x1="123.8" y1="1563.3" x2="130.8" y2="1563.3" stroke="#141414" stroke-width="2.1"/><line x1="768.1" y1="1563.3" x2="761.1" y2="1563.3" stroke="#141414" stroke-width="2.1"/><text x="123.8" y="1630.7" font-size="37.5" fill="#1c1c1c" text-anchor="middle">J</text><text x="182.4" y="1630.7" font-size="37.5" fill="#1c1c1c" text-anchor="middle">F</text><text x="240.9" y="1630.7" font-size="37.5" fill="#1c1c1c" text-anchor="middle">M</text><text x="299.5" y="1630.7" font-size="37.5" fill="#1c1c1c" text-anchor="middle">A</text><text x="358.1" y="1630.7" font-size="37.5" fill="#1c1c1c" text-anchor="middle">M</text><text x="416.7" y="1630.7" font-size="37.5" fill="#1c1c1c" text-anchor="middle">J</text><text x="475.2" y="1630.7" font-size="37.5" fill="#1c1c1c" text-anchor="middle">J</text><text x="533.8" y="1630.7" font-size="37.5" fill="#1c1c1c" text-anchor="middle">A</text><text x="592.4" y="1630.7" font-size="37.5" fill="#1c1c1c" text-anchor="middle">S</text><text x="651.0" y="1630.7" font-size="37.5" fill="#1c1c1c" text-anchor="middle">O</text><text x="709.5" y="1630.7" font-size="37.5" fill="#1c1c1c" text-anchor="middle">N</text><text x="768.1" y="1630.7" font-size="37.5" fill="#1c1c1c" text-anchor="middle">D</text><text x="111.1" y="1214.4" font-size="37.5" fill="#1c1c1c" text-anchor="end">20</text><text x="111.1" y="1287.1" font-size="37.5" fill="#1c1c1c" text-anchor="end">0</text><text x="111.1" y="1359.8" font-size="37.5" fill="#1c1c1c" text-anchor="end">-20</text><text x="111.1" y="1432.6" font-size="37.5" fill="#1c1c1c" text-anchor="end">-40</text><text x="111.1" y="1505.3" font-size="37.5" fill="#1c1c1c" text-anchor="end">-60</text><text x="111.1" y="1578.0" font-size="37.5" fill="#1c1c1c" text-anchor="end">-80</text><clipPath id="clipf"><rect x="972.5" y="1199.7" width="644.3" height="381.8"/></clipPath><g clip-path="url(#clipf)"><polygon points="972.5,1294.3 1031.1,1294.3 1089.6,1294.3 1148.2,1294.3 1206.8,1294.3 1265.4,1274.1 1323.9,1288.8 1382.5,1291.1 1441.1,1264.0 1499.7,1287.5 1558.2,1291.9 1616.8,1292.5 1616.8,1295.6 1558.2,1296.3 1499.7,1297.5 1441.1,1334.0 1382.5,1486.1 1323.9,1604.0 1265.4,1341.4 1206.8,1294.3 1148.2,1294.3 1089.6,1294.3 1031.1,1294.3 972.5,1294.3" fill="#c6c6c6" stroke="#848484" stroke-width="1.6" stroke-linejoin="round"/><polygon points="972.5,1294.3 1031.1,1294.3 1089.6,1294.3 1148.2,1294.3 1206.8,1294.3 1265.4,1292.3 1323.9,1365.5 1382.5,1337.9 1441.1,1281.8 1499.7,1289.4 1558.2,1292.5 1616.8,1293.0 1616.8,1295.0 1558.2,1295.6 1499.7,1296.3 1441.1,1315.2 1382.5,1432.5 1323.9,1522.7 1265.4,1324.5 1206.8,1294.3 1148.2,1294.3 1089.6,1294.3 1031.1,1294.3 972.5,1294.3" fill="#969696" stroke="#848484" stroke-width="1.6" stroke-linejoin="round"/><line x1="1031.1" y1="1199.7" x2="1031.1" y2="1581.5" stroke="#262626" stroke-opacity="0.165" stroke-width="2"/><line x1="1089.6" y1="1199.7" x2="1089.6" y2="1581.5" stroke="#262626" stroke-opacity="0.165" stroke-width="2"/><line x1="1148.2" y1="1199.7" x2="1148.2" y2="1581.5" stroke="#262626" stroke-opacity="0.165" stroke-width="2"/><line x1="1206.8" y1="1199.7" x2="1206.8" y2="1581.5" stroke="#262626" stroke-opacity="0.165" stroke-width="2"/><line x1="1265.4" y1="1199.7" x2="1265.4" y2="1581.5" stroke="#262626" stroke-opacity="0.165" stroke-width="2"/><line x1="1323.9" y1="1199.7" x2="1323.9" y2="1581.5" stroke="#262626" stroke-opacity="0.165" stroke-width="2"/><line x1="1382.5" y1="1199.7" x2="1382.5" y2="1581.5" stroke="#262626" stroke-opacity="0.165" stroke-width="2"/><line x1="1441.1" y1="1199.7" x2="1441.1" y2="1581.5" stroke="#262626" stroke-opacity="0.165" stroke-width="2"/><line x1="1499.7" y1="1199.7" x2="1499.7" y2="1581.5" stroke="#262626" stroke-opacity="0.165" stroke-width="2"/><line x1="1558.2" y1="1199.7" x2="1558.2" y2="1581.5" stroke="#262626" stroke-opacity="0.165" stroke-width="2"/><line x1="972.5" y1="1215.6" x2="1616.8" y2="1215.6" stroke="#262626" stroke-opacity="0.165" stroke-width="2"/><line x1="972.5" y1="1295.2" x2="1616.8" y2="1295.2" stroke="#262626" stroke-opacity="0.165" stroke-width="2"/><line x1="972.5" y1="1374.7" x2="1616.8" y2="1374.7" stroke="#262626" stroke-opacity="0.165" stroke-width="2"/><line x1="972.5" y1="1454.2" x2="1616.8" y2="1454.2" stroke="#262626" stroke-opacity="0.165" stroke-width="2"/><line x1="972.5" y1="1533.8" x2="1616.8" y2="1533.8" stroke="#262626" stroke-opacity="0.165" stroke-width="2"/><polyline points="972.5,1294.3 1031.1,1294.3 1089.6,1294.3 1148.2,1294.3 1206.8,1294.3 1265.4,1308.4 1323.9,1444.1 1382.5,1381.6 1441.1,1299.2 1499.7,1292.5 1558.2,1293.1 1616.8,1294.0" fill="none" stroke="#ad40f5" stroke-width="5.5" stroke-linejoin="round" stroke-linecap="butt"/></g><rect x="972.5" y="1199.7" width="644.3" height="381.8" fill="none" stroke="#141414" stroke-width="2.1"/><line x1="972.5" y1="1581.5" x2="972.5" y2="1574.5" stroke="#141414" stroke-width="2.1"/><line x1="972.5" y1="1199.7" x2="972.5" y2="1206.7" stroke="#141414" stroke-width="2.1"/><line x1="1031.1" y1="1581.5" x2="1031.1" y2="1574.5" stroke="#141414" stroke-width="2.1"/><line x1="1031.1" y1="1199.7" x2="1031.1" y2="1206.7" stroke="#141414" stroke-width="2.1"/><line x1="1089.6" y1="1581.5" x2="1089.6" y2="1574.5" stroke="#141414" stroke-width="2.1"/><line x1="1089.6" y1="1199.7" x2="1089.6" y2="1206.7" stroke="#141414" stroke-width="2.1"/><line x1="1148.2" y1="1581.5" x2="1148.2" y2="1574.5" stroke="#141414" stroke-width="2.1"/><line x1="1148.2" y1="1199.7" x2="1148.2" y2="1206.7" stroke="#141414" stroke-width="2.1"/><line x1="1206.8" y1="1581.5" x2="1206.8" y2="1574.5" stroke="#141414" stroke-width="2.1"/><line x1="1206.8" y1="1199.7" x2="1206.8" y2="1206.7" stroke="#141414" stroke-width="2.1"/><line x1="1265.4" y1="1581.5" x2="1265.4" y2="1574.5" stroke="#141414" stroke-width="2.1"/><line x1="1265.4" y1="1199.7" x2="1265.4" y2="1206.7" stroke="#141414" stroke-width="2.1"/><line x1="1323.9" y1="1581.5" x2="1323.9" y2="1574.5" stroke="#141414" stroke-width="2.1"/><line x1="1323.9" y1="1199.7" x2="1323.9" y2="1206.7" stroke="#141414" stroke-width="2.1"/><line x1="1382.5" y1="1581.5" x2="1382.5" y2="1574.5" stroke="#141414" stroke-width="2.1"/><line x1="1382.5" y1="1199.7" x2="1382.5" y2="1206.7" stroke="#141414" stroke-width="2.1"/><line x1="1441.1" y1="1581.5" x2="1441.1" y2="1574.5" stroke="#141414" stroke-width="2.1"/><line x1="1441.1" y1="1199.7" x2="1441.1" y2="1206.7" stroke="#141414" stroke-width="2.1"/><line x1="1499.7" y1="1581.5" x2="1499.7" y2="1574.5" stroke="#141414" stroke-width="2.1"/><line x1="1499.7" y1="1199.7" x2="1499.7" y2="1206.7" stroke="#141414" stroke-width="2.1"/><line x1="1558.2" y1="1581.5" x2="1558.2" y2="1574.5" stroke="#141414" stroke-width="2.1"/><line x1="1558.2" y1="1199.7" x2="1558.2" y2="1206.7" stroke="#141414" stroke-width="2.1"/><line x1="1616.8" y1="1581.5" x2="1616.8" y2="1574.5" stroke="#141414" stroke-width="2.1"/><line x1="1616.8" y1="1199.7" x2="1616.8" y2="1206.7" stroke="#141414" stroke-width="2.1"/><line x1="972.5" y1="1215.6" x2="979.5" y2="1215.6" stroke="#141414" stroke-width="2.1"/><line x1="1616.8" y1="1215.6" x2="1609.8" y2="1215.6" stroke="#141414" stroke-width="2.1"/><line x1="972.5" y1="1295.2" x2="979.5" y2="1295.2" stroke="#141414" stroke-width="2.1"/><line x1="1616.8" y1="1295.2" x2="1609.8" y2="1295.2" stroke="#141414" stroke-width="2.1"/><line x1="972.5" y1="1374.7" x2="979.5" y2="1374.7" stroke="#141414" stroke-width="2.1"/><line x1="1616.8" y1="1374.7" x2="1609.8" y2="1374.7" stroke="#141414" stroke-width="2.1"/><line x1="972.5" y1="1454.2" x2="979.5" y2="1454.2" stroke="#141414" stroke-width="2.1"/><line x1="1616.8" y1="1454.2" x2="1609.8" y2="1454.2" stroke="#141414" stroke-width="2.1"/><line x1="972.5" y1="1533.8" x2="979.5" y2="1533.8" stroke="#141414" stroke-width="2.1"/><line x1="1616.8" y1="1533.8" x2="1609.8" y2="1533.8" stroke="#141414" stroke-width="2.1"/><text x="972.5" y="1630.7" font-size="37.5" fill="#1c1c1c" text-anchor="middle">J</text><text x="1031.1" y="1630.7" font-size="37.5" fill="#1c1c1c" text-anchor="middle">F</text><text x="1089.6" y="1630.7" font-size="37.5" fill="#1c1c1c" text-anchor="middle">M</text><text x="1148.2" y="1630.7" font-size="37.5" fill="#1c1c1c" text-anchor="middle">A</text><text x="1206.8" y="1630.7" font-size="37.5" fill="#1c1c1c" text-anchor="middle">M</text><text x="1265.4" y="1630.7" font-size="37.5" fill="#1c1c1c" text-anchor="middle">J</text><text x="1323.9" y="1630.7" font-size="37.5" fill="#1c1c1c" text-anchor="middle">J</text><text x="1382.5" y="1630.7" font-size="37.5" fill="#1c1c1c" text-anchor="middle">A</text><text x="1441.1" y="1630.7" font-size="37.5" fill="#1c1c1c" text-anchor="middle">S</text><text x="1499.7" y="1630.7" font-size="37.5" fill="#1c1c1c" text-anchor="middle">O</text><text x="1558.2" y="1630.7" font-size="37.5" fill="#1c1c1c" text-anchor="middle">N</text><text x="1616.8" y="1630.7" font-size="37.5" fill="#1c1c1c" text-anchor="middle">D</text><text x="959.8" y="1230.3" font-size="37.5" fill="#1c1c1c" text-anchor="end">5</text><text x="959.8" y="1309.9" font-size="37.5" fill="#1c1c1c" text-anchor="end">0</text><text x="959.8" y="1389.4" font-size="37.5" fill="#1c1c1c" text-anchor="end">-5</text><text x="959.8" y="1468.9" font-size="37.5" fill="#1c1c1c" text-anchor="end">-10</text><text x="959.8" y="1548.5" font-size="37.5" fill="#1c1c1c" text-anchor="end">-15</text><clipPath id="clipg"><rect x="123.1" y="1746.0" width="645.0" height="377.1"/></clipPath><g clip-path="url(#clipg)"><rect x="122.8" y="1741.0" width="646.3" height="387.5" fill="#0000b3"/><polygon points="118.8,1839.0 123.8,1839.0 182.4,1836.3 240.9,1842.6 299.5,1843.0 358.1,1832.0 416.7,1771.9 475.2,1755.3 533.8,1755.3 592.4,1755.6 651.0,1756.0 709.5,1756.4 768.1,1756.7 773.1,1756.7 773.1,2133.5 118.8,2133.5" fill="#b244f5"/><polygon points="118.8,1840.6 123.8,1840.6 182.4,1837.9 240.9,1844.2 299.5,1844.6 358.1,1833.6 416.7,2002.4 475.2,2063.5 533.8,2053.6 592.4,2048.7 651.0,2045.1 709.5,2043.5 768.1,2042.5 773.1,2042.5 773.1,2133.5 118.8,2133.5" fill="#b30000"/><polyline points="118.8,1839.0 123.8,1839.0 182.4,1836.3 240.9,1842.6 299.5,1843.0 358.1,1832.0 416.7,1771.9 475.2,1755.3 533.8,1755.3 592.4,1755.6 651.0,1756.0 709.5,1756.4 768.1,1756.7 773.1,1756.7" fill="none" stroke="#fff" stroke-width="5.8" stroke-linejoin="round"/><polyline points="118.8,1840.6 123.8,1840.6 182.4,1837.9 240.9,1844.2 299.5,1844.6 358.1,1833.6 416.7,2002.4 475.2,2063.5 533.8,2053.6 592.4,2048.7 651.0,2045.1 709.5,2043.5 768.1,2042.5 773.1,2042.5" fill="none" stroke="#fff" stroke-width="5.8" stroke-linejoin="round"/></g><line x1="123.5" y1="1740.2" x2="123.5" y2="1746.0" stroke="#262626" stroke-width="1.4"/><line x1="768.6" y1="1740.2" x2="768.6" y2="2123.5" stroke="#1a1030" stroke-width="1.4"/><text x="186.8" y="1794.2" font-size="37.8" fill="#fff">Discharge</text><text x="573.8" y="1947.2" font-size="37.8" fill="#fff">Snowmelt</text><text x="187.4" y="2100.4" font-size="37.8" fill="#fff">Snowfall</text><text x="780.2" y="1763.0" font-size="37.5" fill="#10108c">3 %</text><text x="780.2" y="1912.2" font-size="37.5" fill="#9a44d6">75 %</text><text x="780.2" y="2096.7" font-size="37.5" fill="#a00000">22 %</text><text x="123.8" y="2172.7" font-size="37.5" fill="#1c1c1c" text-anchor="middle">J</text><text x="182.4" y="2172.7" font-size="37.5" fill="#1c1c1c" text-anchor="middle">F</text><text x="240.9" y="2172.7" font-size="37.5" fill="#1c1c1c" text-anchor="middle">M</text><text x="299.5" y="2172.7" font-size="37.5" fill="#1c1c1c" text-anchor="middle">A</text><text x="358.1" y="2172.7" font-size="37.5" fill="#1c1c1c" text-anchor="middle">M</text><text x="416.7" y="2172.7" font-size="37.5" fill="#1c1c1c" text-anchor="middle">J</text><text x="475.2" y="2172.7" font-size="37.5" fill="#1c1c1c" text-anchor="middle">J</text><text x="533.8" y="2172.7" font-size="37.5" fill="#1c1c1c" text-anchor="middle">A</text><text x="592.4" y="2172.7" font-size="37.5" fill="#1c1c1c" text-anchor="middle">S</text><text x="651.0" y="2172.7" font-size="37.5" fill="#1c1c1c" text-anchor="middle">O</text><text x="709.5" y="2172.7" font-size="37.5" fill="#1c1c1c" text-anchor="middle">N</text><text x="768.1" y="2172.7" font-size="37.5" fill="#1c1c1c" text-anchor="middle">D</text><text x="111.1" y="2138.2" font-size="37.5" fill="#1c1c1c" text-anchor="end">0</text><text x="111.1" y="1947.3" font-size="37.5" fill="#1c1c1c" text-anchor="end">50</text><text x="111.1" y="1756.4" font-size="37.5" fill="#1c1c1c" text-anchor="end">100</text><text x="445.9" y="2224.5" font-size="41.25" fill="#1c1c1c" text-anchor="middle">Month of year</text><clipPath id="cliph"><rect x="971.8" y="1746.0" width="645.0" height="377.1"/></clipPath><g clip-path="url(#cliph)"><rect x="971.5" y="1741.0" width="646.3" height="387.5" fill="#0000b3"/><polygon points="967.5,1818.1 972.5,1818.1 1031.1,1825.1 1089.6,1829.2 1148.2,1832.2 1206.8,1834.9 1265.4,1809.0 1323.9,1775.0 1382.5,1774.0 1441.1,1775.0 1499.7,1775.8 1558.2,1776.6 1616.8,1776.8 1621.8,1776.8 1621.8,2133.5 967.5,2133.5" fill="#b244f5"/><polygon points="967.5,1836.3 972.5,1836.3 1031.1,1842.3 1089.6,1847.0 1148.2,1849.8 1206.8,1853.8 1265.4,1939.5 1323.9,2042.2 1382.5,2049.0 1441.1,2048.2 1499.7,2041.7 1558.2,2034.3 1616.8,2029.9 1621.8,2029.9 1621.8,2133.5 967.5,2133.5" fill="#b30000"/><polyline points="967.5,1818.1 972.5,1818.1 1031.1,1825.1 1089.6,1829.2 1148.2,1832.2 1206.8,1834.9 1265.4,1809.0 1323.9,1775.0 1382.5,1774.0 1441.1,1775.0 1499.7,1775.8 1558.2,1776.6 1616.8,1776.8 1621.8,1776.8" fill="none" stroke="#fff" stroke-width="5.8" stroke-linejoin="round"/><polyline points="967.5,1836.3 972.5,1836.3 1031.1,1842.3 1089.6,1847.0 1148.2,1849.8 1206.8,1853.8 1265.4,1939.5 1323.9,2042.2 1382.5,2049.0 1441.1,2048.2 1499.7,2041.7 1558.2,2034.3 1616.8,2029.9 1621.8,2029.9" fill="none" stroke="#fff" stroke-width="5.8" stroke-linejoin="round"/></g><line x1="972.2" y1="1740.2" x2="972.2" y2="1746.0" stroke="#262626" stroke-width="1.4"/><line x1="1617.3" y1="1740.2" x2="1617.3" y2="2123.5" stroke="#1a1030" stroke-width="1.4"/><text x="1035.5" y="1794.2" font-size="37.8" fill="#fff">Discharge</text><text x="1422.5" y="1947.2" font-size="37.8" fill="#fff">Snowmelt</text><text x="1036.1" y="2100.4" font-size="37.8" fill="#fff">Snowfall</text><text x="1628.6" y="1772.7" font-size="37.5" fill="#10108c">9 %</text><text x="1628.6" y="1915.4" font-size="37.5" fill="#9a44d6">66 %</text><text x="1628.6" y="2089.7" font-size="37.5" fill="#a00000">25 %</text><text x="972.5" y="2172.7" font-size="37.5" fill="#1c1c1c" text-anchor="middle">J</text><text x="1031.1" y="2172.7" font-size="37.5" fill="#1c1c1c" text-anchor="middle">F</text><text x="1089.6" y="2172.7" font-size="37.5" fill="#1c1c1c" text-anchor="middle">M</text><text x="1148.2" y="2172.7" font-size="37.5" fill="#1c1c1c" text-anchor="middle">A</text><text x="1206.8" y="2172.7" font-size="37.5" fill="#1c1c1c" text-anchor="middle">M</text><text x="1265.4" y="2172.7" font-size="37.5" fill="#1c1c1c" text-anchor="middle">J</text><text x="1323.9" y="2172.7" font-size="37.5" fill="#1c1c1c" text-anchor="middle">J</text><text x="1382.5" y="2172.7" font-size="37.5" fill="#1c1c1c" text-anchor="middle">A</text><text x="1441.1" y="2172.7" font-size="37.5" fill="#1c1c1c" text-anchor="middle">S</text><text x="1499.7" y="2172.7" font-size="37.5" fill="#1c1c1c" text-anchor="middle">O</text><text x="1558.2" y="2172.7" font-size="37.5" fill="#1c1c1c" text-anchor="middle">N</text><text x="1616.8" y="2172.7" font-size="37.5" fill="#1c1c1c" text-anchor="middle">D</text><text x="959.8" y="2138.2" font-size="37.5" fill="#1c1c1c" text-anchor="end">0</text><text x="959.8" y="1947.3" font-size="37.5" fill="#1c1c1c" text-anchor="end">50</text><text x="959.8" y="1756.4" font-size="37.5" fill="#1c1c1c" text-anchor="end">100</text><text x="1294.7" y="2224.5" font-size="41.25" fill="#1c1c1c" text-anchor="middle">Month of year</text><text x="445.9" y="104.9" font-size="41.25" fill="#000" text-anchor="middle">SMB</text><text x="40.0" y="306.6" font-size="41.25" fill="#1c1c1c" text-anchor="middle" transform="rotate(-90 40.0 306.6)">Mass change (Gt)</text><text transform="translate(-0.2 101.8) scale(1.16 1)" font-size="39.5" font-weight="bold" fill="#000" stroke="#000" stroke-width="1.3">a</text><text x="1294.7" y="104.9" font-size="41.25" fill="#000" text-anchor="middle">SMB</text><text x="888.7" y="306.6" font-size="41.25" fill="#1c1c1c" text-anchor="middle" transform="rotate(-90 888.7 306.6)">Mass change (Gt)</text><text transform="translate(847.5 101.8) scale(1.16 1)" font-size="39.5" font-weight="bold" fill="#000" stroke="#000" stroke-width="1.3">b</text><text x="445.9" y="646.9" font-size="41.25" fill="#000" text-anchor="middle">Snowfall</text><text x="40.0" y="848.6" font-size="41.25" fill="#1c1c1c" text-anchor="middle" transform="rotate(-90 40.0 848.6)">Mass change (Gt)</text><text transform="translate(-0.2 643.8) scale(1.16 1)" font-size="39.5" font-weight="bold" fill="#000" stroke="#000" stroke-width="1.3">c</text><text x="1294.7" y="646.9" font-size="41.25" fill="#000" text-anchor="middle">Snowfall</text><text x="888.7" y="848.6" font-size="41.25" fill="#1c1c1c" text-anchor="middle" transform="rotate(-90 888.7 848.6)">Mass change (Gt)</text><text transform="translate(847.5 643.8) scale(1.16 1)" font-size="39.5" font-weight="bold" fill="#000" stroke="#000" stroke-width="1.3">d</text><text x="445.9" y="1188.9" font-size="41.25" fill="#000" text-anchor="middle">Snowmelt</text><text x="40.0" y="1390.6" font-size="41.25" fill="#1c1c1c" text-anchor="middle" transform="rotate(-90 40.0 1390.6)">Mass change (Gt)</text><text transform="translate(-0.2 1185.8) scale(1.16 1)" font-size="39.5" font-weight="bold" fill="#000" stroke="#000" stroke-width="1.3">e</text><text x="1294.7" y="1188.9" font-size="41.25" fill="#000" text-anchor="middle">Snowmelt</text><text x="888.7" y="1390.6" font-size="41.25" fill="#1c1c1c" text-anchor="middle" transform="rotate(-90 888.7 1390.6)">Mass change (Gt)</text><text transform="translate(847.5 1185.8) scale(1.16 1)" font-size="39.5" font-weight="bold" fill="#000" stroke="#000" stroke-width="1.3">f</text><text x="445.9" y="1730.9" font-size="41.25" fill="#000" text-anchor="middle">Cumulative variability</text><text x="55.4" y="1932.6" font-size="41.25" fill="#1c1c1c" text-anchor="middle" transform="rotate(-90 55.4 1932.6)">Proportion (%)</text><text transform="translate(-0.2 1727.8) scale(1.16 1)" font-size="39.5" font-weight="bold" fill="#000" stroke="#000" stroke-width="1.3">g</text><text x="1294.7" y="1730.9" font-size="41.25" fill="#000" text-anchor="middle">Cumulative variability</text><text x="904.1" y="1932.6" font-size="41.25" fill="#1c1c1c" text-anchor="middle" transform="rotate(-90 904.1 1932.6)">Proportion (%)</text><text transform="translate(847.5 1727.8) scale(1.16 1)" font-size="39.5" font-weight="bold" fill="#000" stroke="#000" stroke-width="1.3">h</text><text x="445.9" y="30.7" font-size="42" font-weight="bold" fill="#000" text-anchor="middle">Arctic Canada North</text><text x="1294.7" y="30.7" font-size="42" font-weight="bold" fill="#000" text-anchor="middle">Svalbard</text></svg>
</body></html>
